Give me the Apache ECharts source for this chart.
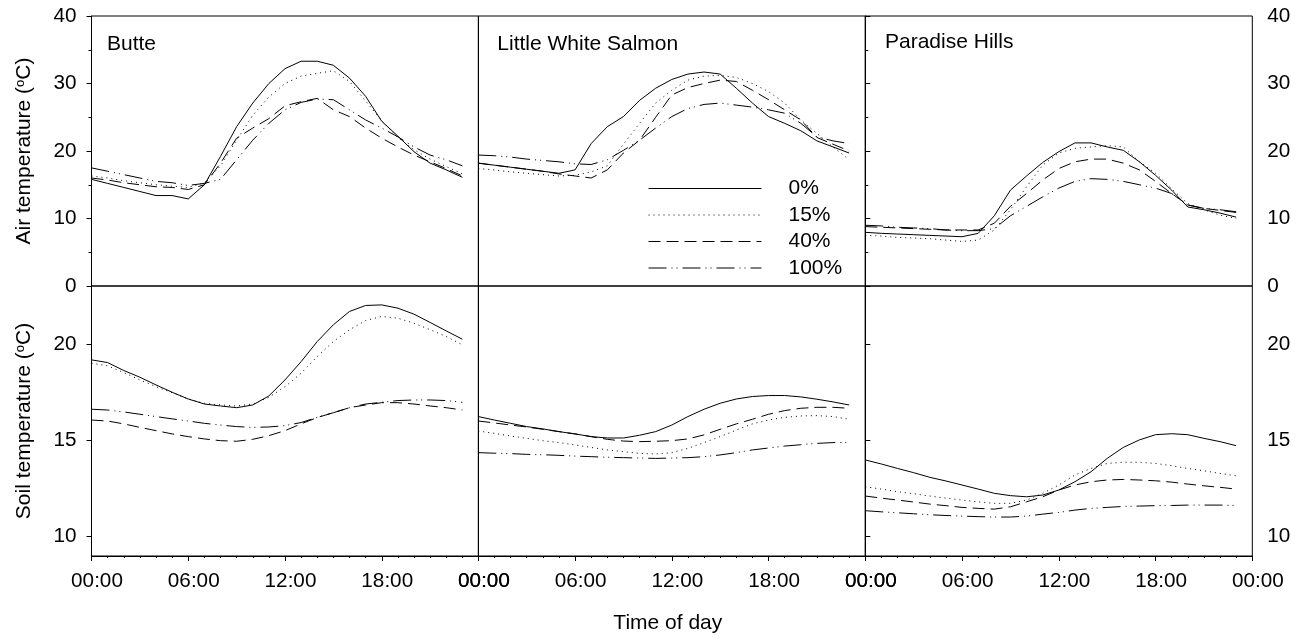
<!DOCTYPE html>
<html>
<head>
<meta charset="utf-8">
<title>Air and soil temperature</title>
<script src="https://cdn.jsdelivr.net/npm/echarts@6/dist/echarts.min.js"></script>
<style>
  html, body { margin: 0; padding: 0; background: #fff; }
  #chart { width: 1307px; height: 639px; }
</style>
</head>
<body>
<div id="chart"></div>
<script>
const hours = [0, 1, 2, 3, 4, 5, 6, 7, 8, 9, 10, 11, 12, 13, 14, 15, 16, 17, 18, 19, 20, 21, 22, 23];
const sites = ["Butte", "Little White Salmon", "Paradise Hills"];
const treatments = ["0%", "15%", "40%", "100%"];
const xTickLabels = ["00:00", "06:00", "12:00", "18:00", "00:00"];
const airTicks = [0, 10, 20, 30, 40];
const soilTicks = [10, 15, 20];

// air temperature (°C), hourly, per shade treatment
const butteAir0 = [15.8, 15.2, 14.6, 14.0, 13.4, 13.4, 12.9, 15.0, 19.2, 23.6, 27.1, 30.0, 32.2, 33.3, 33.3, 32.7, 30.8, 28.1, 24.4, 22.2, 19.9, 18.2, 17.2, 16.1];
const butteAir15 = [16.3, 16.0, 15.6, 15.3, 15.0, 14.8, 14.6, 15.3, 17.8, 21.6, 25.3, 28.0, 30.0, 31.1, 31.5, 31.9, 30.3, 27.4, 24.5, 22.0, 20.2, 18.8, 17.7, 16.6];
const butteAir40 = [16.0, 15.7, 15.3, 15.0, 14.7, 14.6, 14.3, 15.0, 18.2, 21.9, 23.4, 24.8, 26.7, 27.3, 27.8, 26.1, 25.1, 23.4, 21.9, 20.6, 19.4, 18.4, 17.4, 16.3];
const butteAir100 = [17.5, 17.0, 16.5, 16.0, 15.5, 15.3, 14.9, 15.2, 15.8, 18.7, 21.6, 24.1, 26.1, 27.2, 27.7, 27.6, 26.1, 24.6, 23.4, 22.1, 20.6, 19.4, 18.7, 17.8];

const lwsAir0 = [18.2, 17.9, 17.6, 17.3, 17.0, 16.7, 17.2, 21.1, 23.6, 25.1, 27.5, 29.3, 30.6, 31.4, 31.7, 31.4, 29.3, 27.1, 25.1, 24.1, 23.0, 21.5, 20.6, 19.7];
const lwsAir15 = [17.4, 17.2, 16.9, 16.7, 16.5, 16.3, 16.4, 16.9, 17.8, 21.0, 24.1, 27.1, 29.0, 30.5, 31.1, 31.2, 30.9, 30.0, 28.8, 27.1, 24.6, 22.6, 20.6, 18.7];
const lwsAir40 = [18.2, 17.9, 17.6, 17.3, 17.0, 16.6, 16.3, 16.0, 17.2, 19.7, 21.6, 25.0, 28.3, 29.4, 30.0, 30.5, 30.3, 29.0, 27.6, 26.1, 24.6, 22.0, 21.0, 20.0];
const lwsAir100 = [19.4, 19.3, 19.1, 18.8, 18.6, 18.4, 18.1, 18.0, 18.7, 20.1, 21.6, 23.4, 25.1, 26.3, 26.9, 27.1, 26.8, 26.5, 26.1, 25.6, 24.1, 22.1, 21.5, 21.1];

const phAir0 = [7.95, 7.8, 7.7, 7.6, 7.5, 7.4, 7.3, 7.8, 10.4, 14.2, 16.3, 18.3, 19.9, 21.2, 21.2, 20.6, 20.1, 18.4, 16.4, 14.2, 11.7, 11.3, 10.8, 10.2];
const phAir15 = [7.5, 7.4, 7.2, 7.1, 7.0, 6.8, 6.6, 6.8, 8.3, 11.3, 14.7, 17.9, 19.7, 20.4, 20.6, 20.8, 20.6, 18.4, 16.7, 14.4, 12.2, 11.3, 10.5, 10.0];
const phAir40 = [8.8, 8.7, 8.6, 8.5, 8.4, 8.3, 8.3, 8.3, 9.3, 11.8, 13.7, 15.7, 17.4, 18.4, 18.8, 18.8, 18.2, 17.2, 15.5, 13.7, 12.0, 11.5, 11.2, 10.9];
const phAir100 = [9.0, 8.9, 8.7, 8.6, 8.5, 8.3, 8.2, 8.2, 8.5, 10.4, 11.8, 13.2, 14.5, 15.5, 15.9, 15.8, 15.5, 15.0, 14.5, 13.7, 12.0, 11.5, 11.3, 11.0];

// soil temperature (°C)
const butteSoil0 = [19.17, 19.03, 18.62, 18.27, 17.87, 17.49, 17.14, 16.88, 16.78, 16.69, 16.83, 17.3, 18.13, 19.08, 20.12, 20.99, 21.68, 21.99, 22.02, 21.85, 21.54, 21.11, 20.67, 20.24];
const butteSoil15 = [19.0, 18.86, 18.51, 18.13, 17.78, 17.47, 17.14, 16.92, 16.83, 16.78, 16.88, 17.23, 17.78, 18.48, 19.34, 20.12, 20.73, 21.21, 21.42, 21.33, 21.07, 20.73, 20.38, 19.95];
const butteSoil40 = [16.05, 16.0, 15.85, 15.67, 15.5, 15.33, 15.19, 15.07, 14.98, 14.95, 15.05, 15.24, 15.5, 15.85, 16.18, 16.43, 16.69, 16.83, 16.95, 16.95, 16.88, 16.78, 16.69, 16.57];
const butteSoil100 = [16.61, 16.57, 16.47, 16.35, 16.23, 16.11, 16.0, 15.88, 15.79, 15.71, 15.67, 15.69, 15.76, 15.92, 16.19, 16.43, 16.69, 16.88, 16.97, 17.06, 17.09, 17.09, 17.06, 16.97];

const lwsSoil0 = [16.23, 16.05, 15.88, 15.71, 15.59, 15.45, 15.33, 15.19, 15.12, 15.12, 15.26, 15.45, 15.79, 16.23, 16.61, 16.92, 17.14, 17.27, 17.32, 17.32, 17.25, 17.13, 16.99, 16.83];
const lwsSoil15 = [15.48, 15.36, 15.22, 15.1, 14.98, 14.88, 14.76, 14.63, 14.5, 14.41, 14.32, 14.29, 14.36, 14.58, 14.88, 15.19, 15.53, 15.85, 16.05, 16.19, 16.26, 16.28, 16.23, 16.09];
const lwsSoil40 = [16.0, 15.9, 15.79, 15.69, 15.57, 15.45, 15.33, 15.19, 15.05, 14.96, 14.93, 14.95, 14.98, 15.07, 15.28, 15.57, 15.85, 16.09, 16.35, 16.54, 16.66, 16.71, 16.71, 16.66];
const lwsSoil100 = [14.36, 14.33, 14.31, 14.27, 14.25, 14.22, 14.18, 14.15, 14.12, 14.1, 14.08, 14.06, 14.08, 14.1, 14.15, 14.24, 14.36, 14.5, 14.6, 14.7, 14.77, 14.84, 14.88, 14.89];

const phSoil0 = [13.98, 13.77, 13.54, 13.32, 13.08, 12.89, 12.68, 12.47, 12.25, 12.13, 12.07, 12.16, 12.42, 12.85, 13.37, 14.06, 14.63, 15.02, 15.29, 15.34, 15.29, 15.1, 14.93, 14.72];
const phSoil15 = [12.59, 12.47, 12.33, 12.23, 12.11, 12.0, 11.9, 11.81, 11.73, 11.73, 11.9, 12.25, 12.68, 13.2, 13.54, 13.8, 13.86, 13.86, 13.8, 13.68, 13.54, 13.42, 13.28, 13.16];
const phSoil40 = [12.11, 12.0, 11.9, 11.8, 11.69, 11.61, 11.52, 11.47, 11.43, 11.55, 11.81, 12.07, 12.42, 12.68, 12.85, 12.94, 12.97, 12.94, 12.9, 12.83, 12.73, 12.64, 12.56, 12.47];
const phSoil100 = [11.35, 11.29, 11.24, 11.19, 11.14, 11.1, 11.07, 11.04, 11.02, 11.02, 11.07, 11.17, 11.26, 11.38, 11.47, 11.52, 11.57, 11.59, 11.61, 11.62, 11.64, 11.64, 11.64, 11.62];

// panel order: row 0 = air, row 1 = soil; columns = sites
const panels = [
  [butteAir0, butteAir15, butteAir40, butteAir100],
  [lwsAir0, lwsAir15, lwsAir40, lwsAir100],
  [phAir0, phAir15, phAir40, phAir100],
  [butteSoil0, butteSoil15, butteSoil40, butteSoil100],
  [lwsSoil0, lwsSoil15, lwsSoil40, lwsSoil100],
  [phSoil0, phSoil15, phSoil40, phSoil100]
];

const FONT = "Liberation Sans, Arial, sans-serif";
const dashes = ["solid", [1, 4], [12, 6], [18, 5, 1, 4, 1, 5]];
const colLeft = [91.5, 478.3, 865.3];
const colWidth = 387;
const rowTop = [16, 286];
const rowHeight = 270;

const txt = { color: "#000", fontFamily: FONT, fontSize: 21 };
const axisLineStyle = { color: "#000", width: 1 };

const grids = [];
const xAxes = [];
const yAxes = [];
const series = [];

for (let r = 0; r < 2; r++) {
  for (let c = 0; c < 3; c++) {
    const i = r * 3 + c;
    grids.push({
      left: colLeft[c],
      top: rowTop[r],
      width: colWidth,
      height: rowHeight,
      show: true,
      borderColor: "#000",
      borderWidth: 1,
      backgroundColor: "transparent",
      outerBoundsMode: "none"
    });

    xAxes.push({
      gridIndex: i,
      type: "value",
      min: 0,
      max: 24,
      interval: 6,
      show: r === 1,
      name: r === 1 && c === 1 ? "Time of day" : "",
      nameLocation: "middle",
      nameGap: 57,
      nameTextStyle: { ...txt, padding: [0, 8, 0, 0] },
      axisLine: { show: true, lineStyle: axisLineStyle },
      axisTick: { show: true, length: 5, inside: false, lineStyle: axisLineStyle },
      minorTick: { show: true, splitNumber: 6, length: 2, lineStyle: axisLineStyle },
      splitLine: { show: false },
      minorSplitLine: { show: false },
      axisLabel: {
        ...txt,
        fontSize: 20.7,
        margin: 15,
        padding: [0, 0, 0, 11],
        formatter: v => xTickLabels[Math.round(v / 6)]
      }
    });

    const isAir = r === 0;
    const showY = c !== 1;
    const yName = c === 0 ? (isAir ? "Air temperature ({s|o}C)" : "Soil temperature ({s|o}C)") : "";
    const y = {
      gridIndex: i,
      type: "value",
      show: showY,
      position: c === 2 ? "right" : "left",
      name: yName,
      nameLocation: "middle",
      nameGap: 57,
      nameTextStyle: {
        ...txt,
        lineHeight: 21,
        rich: { s: { fontFamily: FONT, fontSize: 13, lineHeight: 9, verticalAlign: "top", color: "#000" } }
      },
      axisLine: { show: true, lineStyle: axisLineStyle },
      axisTick: { show: true, length: 5, inside: false, lineStyle: axisLineStyle },
      splitLine: { show: false },
      minorSplitLine: { show: false },
      axisLabel: { ...txt, fontSize: 20.7, margin: 15 }
    };
    if (isAir) {
      y.min = 0;
      y.max = 40;
      y.interval = 10;
      y.minorTick = { show: true, splitNumber: 2, length: 3, lineStyle: axisLineStyle };
      y.axisLabel.customValues = airTicks;
      y.axisTick.customValues = airTicks;
    } else {
      y.min = 9;
      y.max = 23;
      y.minorTick = { show: false };
      y.axisLabel.customValues = soilTicks;
      y.axisTick.customValues = soilTicks;
    }
    yAxes.push(y);

    panels[i].forEach((vals, k) => {
      series.push({
        type: "line",
        name: treatments[k],
        xAxisIndex: i,
        yAxisIndex: i,
        data: hours.map((h, j) => [h, vals[j]]),
        symbol: "none",
        showSymbol: false,
        silent: true,
        lineStyle: { color: "#000", width: 1, type: dashes[k] },
        itemStyle: { color: "#000" },
        emphasis: { disabled: true },
        z: 3
      });
    });
  }
}

const chart = echarts.init(document.getElementById("chart"), null, { renderer: "canvas" });
chart.setOption({
  animation: false,
  backgroundColor: "#fff",
  title: sites.map((s, c) => ({
    text: s,
    left: [107, 497.3, 885][c],
    top: [33.5, 33.5, 32][c],
    padding: 0,
    textStyle: { ...txt, fontWeight: "normal" }
  })),
  legend: {
    data: treatments,
    orient: "vertical",
    left: 648,
    top: 178,
    padding: 0,
    itemWidth: 113,
    itemHeight: 14,
    itemGap: 5.5,
    selectedMode: false,
    lineStyle: { width: 1 },
    itemStyle: { opacity: 0 },
    textStyle: { ...txt, lineHeight: 21, padding: [0, 0, 0, 22] }
  },
  grid: grids,
  xAxis: xAxes,
  yAxis: yAxes,
  series: series
});
</script>
</body>
</html>
